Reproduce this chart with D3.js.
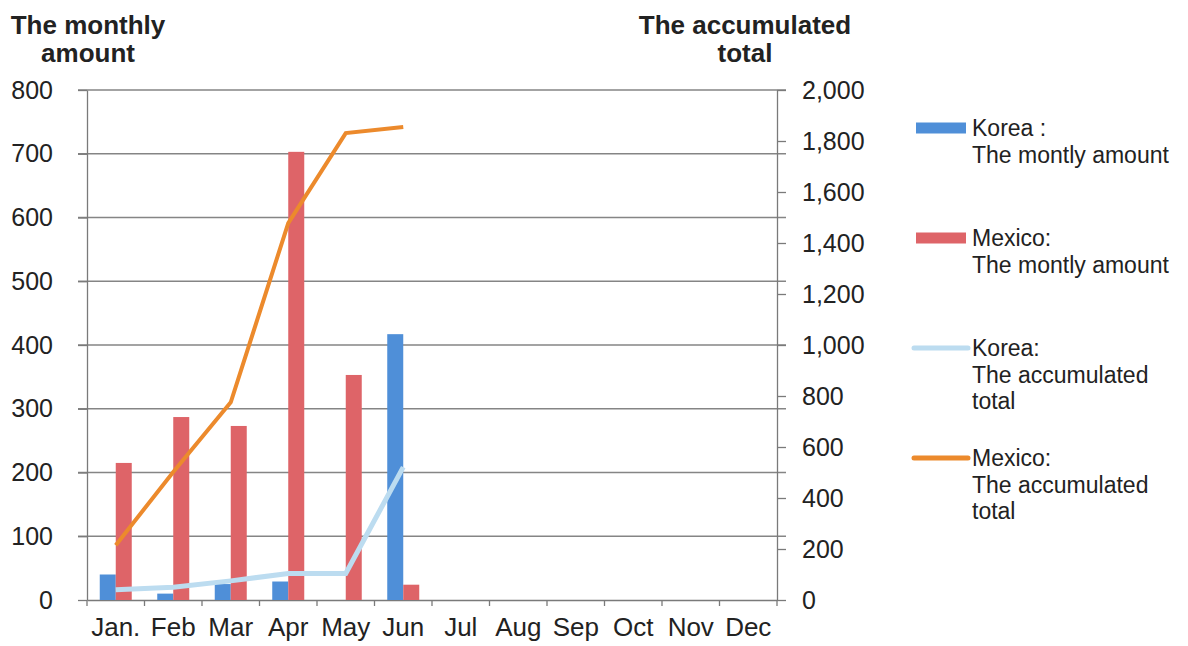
<!DOCTYPE html>
<meta charset="utf-8">
<style>
body { margin: 0; background: #fff; }
text { font-family: "Liberation Sans", Arial, sans-serif; fill: #222; }
.grid line { stroke: #858585; stroke-width: 1.3px; }
.axis path, .axis line { stroke: #7a7a7a; stroke-width: 1.3px; }
</style>
<svg width="1188" height="646"></svg>
<script src="https://d3js.org/d3.v7.min.js"></script>
<script>

var months = ["Jan.", "Feb", "Mar", "Apr", "May", "Jun", "Jul", "Aug", "Sep", "Oct", "Nov", "Dec"];
var koreaMonthly = [40, 10, 25, 29, 0, 417];
var mexicoMonthly = [215, 287, 273, 703, 353, 24];
var koreaTotal = [40, 50, 75, 104, 104, 521];
var mexicoTotal = [215, 502, 775, 1478, 1831, 1855];
var leftTicks = [0, 100, 200, 300, 400, 500, 600, 700, 800];
var rightTicks = [0, 200, 400, 600, 800, 1000, 1200, 1400, 1600, 1800, 2000];

var svg = d3.select("svg");
var plotLeft = 87, plotRight = 777, plotTop = 90, plotBottom = 600;

var x = d3.scaleBand().domain(months).range([plotLeft, plotRight]);
var yL = d3.scaleLinear().domain([0, 800]).range([plotBottom, plotTop]);
var yR = d3.scaleLinear().domain([0, 2000]).range([plotBottom, plotTop]);
var barW = 16;

// gridlines
svg.append("g").attr("class", "grid")
  .selectAll("line").data(leftTicks.slice(1))
  .enter().append("line")
    .attr("x1", plotLeft - 9).attr("x2", plotRight + 9)
    .attr("y1", function(d) { return yL(d); })
    .attr("y2", function(d) { return yL(d); });

// left axis
svg.append("g").attr("class", "axis")
    .attr("transform", "translate(" + plotLeft + ",0)")
    .call(d3.axisLeft(yL).tickValues(leftTicks).tickSize(9).tickSizeOuter(0).tickPadding(25))
    .call(function(g) { g.selectAll("text").style("font-size", "25px"); });

// right axis
svg.append("g").attr("class", "axis")
    .attr("transform", "translate(" + plotRight + ",0)")
    .call(d3.axisRight(yR).tickValues(rightTicks).tickSize(9).tickSizeOuter(0).tickPadding(16).tickFormat(d3.format(",")))
    .call(function(g) { g.selectAll("text").style("font-size", "25px"); });

// bottom axis
var xAxis = svg.append("g").attr("class", "axis")
    .attr("transform", "translate(0," + plotBottom + ")")
    .call(d3.axisBottom(x).tickSize(0).tickPadding(18));
xAxis.selectAll("text").style("font-size", "26px");
xAxis.selectAll(".sep").data(d3.range(13)).enter().append("line")
    .attr("x1", function(i) { return plotLeft + i * x.step(); })
    .attr("x2", function(i) { return plotLeft + i * x.step(); })
    .attr("y1", 0).attr("y2", 6);

// bars
svg.append("g").selectAll("rect").data(koreaMonthly)
  .enter().append("rect")
    .attr("x", function(d, i) { return x(months[i]) + x.bandwidth() / 2 - barW; })
    .attr("width", barW)
    .attr("y", function(d) { return yL(d); })
    .attr("height", function(d) { return plotBottom - yL(d); })
    .attr("fill", "#4f8fd8");

svg.append("g").selectAll("rect").data(mexicoMonthly)
  .enter().append("rect")
    .attr("x", function(d, i) { return x(months[i]) + x.bandwidth() / 2; })
    .attr("width", barW)
    .attr("y", function(d) { return yL(d); })
    .attr("height", function(d) { return plotBottom - yL(d); })
    .attr("fill", "#de6468");

// lines
var line = d3.line()
    .x(function(d, i) { return x(months[i]) + x.bandwidth() / 2; })
    .y(function(d) { return yR(d); });

svg.append("path").datum(koreaTotal)
    .attr("d", line).attr("fill", "none")
    .attr("stroke", "#bcdcf0").attr("stroke-width", 5);

svg.append("path").datum(mexicoTotal)
    .attr("d", line).attr("fill", "none")
    .attr("stroke", "#ec8a2c").attr("stroke-width", 4);

// axis titles
function title(cx, lines) {
  var t = svg.append("text").attr("text-anchor", "middle")
      .style("font-size", "26px").style("font-weight", "bold");
  lines.forEach(function(s, i) {
    t.append("tspan").attr("x", cx).attr("y", 34 + i * 28).text(s);
  });
}
title(88, ["The monthly", "amount"]);
title(745, ["The accumulated", "total"]);

// legend
var legend = [
  {type: "rect", color: "#4f8fd8", y: 128, text: ["Korea :", "The montly amount"]},
  {type: "rect", color: "#de6468", y: 238, text: ["Mexico:", "The montly amount"]},
  {type: "line", color: "#bcdcf0", y: 348, text: ["Korea:", "The accumulated", "total"]},
  {type: "line", color: "#ec8a2c", y: 458, text: ["Mexico:", "The accumulated", "total"]}
];
legend.forEach(function(d) {
  if (d.type == "rect") {
    svg.append("rect").attr("x", 916).attr("y", d.y - 5.5).attr("width", 50).attr("height", 11).attr("fill", d.color);
  } else {
    svg.append("line").attr("x1", 914).attr("x2", 968).attr("y1", d.y).attr("y2", d.y)
      .attr("stroke", d.color).attr("stroke-width", 5).attr("stroke-linecap", "round");
  }
  var t = svg.append("text").style("font-size", "23px");
  d.text.forEach(function(s, i) {
    t.append("tspan").attr("x", 972).attr("y", d.y + 8 + i * 26.5).text(s);
  });
});

</script>
